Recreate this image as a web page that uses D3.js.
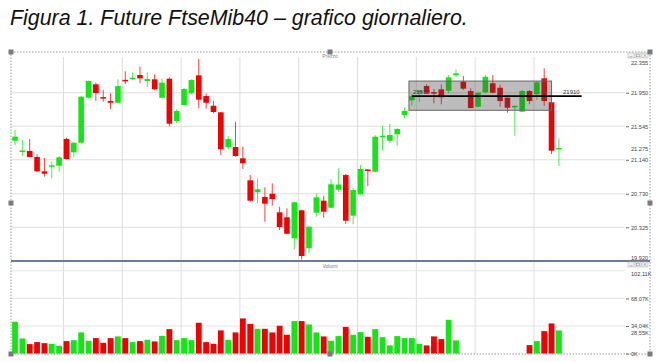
<!DOCTYPE html>
<meta charset="utf-8">
<style>
  body { margin: 0; background: #fff; }
  text { font-family: "Liberation Sans", Arial, sans-serif; }
</style>
<body>
<script src="https://cdn.jsdelivr.net/npm/d3@7"></script>
<script>
// daily candles, index 0..74
var opens = [21370,21232,21246,21174,21001,21053,21068,21391,21230,21346,
             21890,22052,21889,21850,21829,22097,22110,22164,22091,22112,
             21890,22119,21608,21802,21943,22160,21910,21793,21713,21291,
             21294,21158,20892,20747,20691,20730,20506,20445,20192,20530,
             20071,20501,20646,20561,20779,20956,20465,20723,21014,20996,
             21409,21370,21448,21681,21858,21953,22031,21949,21991,21974,
             22160,22083,21971,21781,21955,22064,22010,21890,21771,21721,
             21971,21931,22124,21834,21265];
var closes = [21419,21244,21174,21001,20972,21065,21170,21149,21346,21902,
              22091,21946,21876,21829,22031,22085,22122,22124,22116,21991,
              22071,21576,21729,21995,22103,21866,21829,21717,21267,21391,
              21186,21098,20646,20784,20610,20666,20328,20247,20627,19978,
              20332,20687,20513,20844,20841,20404,20775,21029,21002,21419,
              21421,21439,21512,21729,21910,21965,21950,21937,21895,22136,
              22184,21999,21765,21950,22143,21950,21850,21769,21783,21971,
              21850,22076,21850,21250,21275];
var highs = [21500,21379,21391,21206,21162,21117,21186,21407,21358,21910,
             22095,22071,21983,21943,22112,22209,22196,22264,22196,22172,
             22119,22136,21750,22010,22112,22357,21943,21853,21717,21427,
             21600,21298,20956,20916,20808,20856,20573,20554,20634,20537,
             20344,20735,20706,20908,21037,20968,20803,21077,21025,21439,
             21552,21572,21527,21774,21938,21983,22052,21995,22052,22164,
             22233,22152,22003,21962,22164,22164,22047,21922,21802,21983,
             21983,22091,22245,21841,21399];
var lows = [21318,21186,21170,20992,20936,20916,20996,21146,21170,21337,
            21882,21853,21841,21753,21822,22055,22103,22064,22023,21983,
            21882,21544,21581,21793,21934,21762,21757,21701,21198,21267,
            21177,21029,20634,20614,20392,20585,20292,20240,20059,19936,
            20011,20453,20441,20554,20754,20364,20361,20715,20823,20989,
            21250,21339,21310,21641,21796,21841,21934,21822,21810,21943,
            22136,21983,21762,21774,21943,21943,21781,21709,21431,21717,
            21810,21862,21793,21210,21065];
// volumes in thousands (missing days = null)
var volumes = [39.2,18.7,11.7,14.2,12.9,12.1,9.6,15.4,16.6,26.1,
               15.8,19.1,13.3,19.1,21.2,19.1,14.2,15.4,17.0,15.0,
               21.9,30.2,16.6,19.1,16.6,38.0,14.2,12.1,28.6,17.0,
               26.1,43.4,36.7,30.6,30.6,26.1,34.3,23.2,40.1,40.1,
               36.0,26.1,21.2,15.8,21.6,33.0,23.2,26.5,20.7,30.2,
               20.3,10.1,21.6,19.1,19.1,12.1,10.1,21.2,17.9,41.7,
               16.3,null,null,null,null,null,null,null,null,null,
               10.5,15.4,27.7,37.2,28.55];

var priceTicks = [22355, 21950, 21545, 21275, 21140, 20730, 20325, 19920];
var priceGrid = [21950, 21545, 21140, 20730, 20325];
var lastPrice = 21275;
var volTicks = [102.11, 68.07, 34.04, 28.55, 0];
var volGrid = [102.11, 68.07, 34.04];
var lastVol = 28.55;

// annotation drawn on the chart: range box and level
var boxIdx = [53.6, 73.0], boxPrice = [22091, 21738];
var levelIdx = [54.0, 77.1], level = 21910;

var title = "Figura 1. Future FtseMib40 \u2013 grafico giornaliero.";

var width = 661, height = 362;
var it = d3.formatLocale({decimal: ",", thousands: ".", grouping: [3], currency: ["", "\u20ac"]});
var fmtPrice = it.format(",.0f");
var fmtVol = function(d) { return d === 0 ? "0K" : it.format(".2f")(d) + "K"; };

var x = d3.scaleLinear().domain([0, 74]).range([15, 558.9]);
var y = d3.scaleLinear().domain([19920, 22355]).range([260.8, 59.2]);
var yv = d3.scaleLinear().domain([0, 68.07]).range([353.6, 298.4]);

var green = "#14e614", red = "#f20000";

var svg = d3.select("body").append("svg")
  .attr("width", width).attr("height", height);

svg.append("text")
  .attr("x", 10).attr("y", 25)
  .attr("font-size", 21.4).attr("font-style", "italic")
  .attr("fill", "#111")
  .text(title);

// grids
var vgrid = d3.range(6.6, 75, 8);
svg.append("g").selectAll("line").data(vgrid).enter().append("line")
  .attr("x1", d => x(d)).attr("x2", d => x(d))
  .attr("y1", 57).attr("y2", 354)
  .attr("stroke", "#dedede");

svg.append("g").selectAll("line").data(priceGrid).enter().append("line")
  .attr("x1", 11).attr("x2", 625)
  .attr("y1", d => y(d)).attr("y2", d => y(d))
  .attr("stroke", "#dedede");

svg.append("g").selectAll("line").data(volGrid).enter().append("line")
  .attr("x1", 11).attr("x2", 625)
  .attr("y1", d => yv(d)).attr("y2", d => yv(d))
  .attr("stroke", "#e4e4e4");

// candles
var candles = opens.map((o, i) => ({i: i, o: o, c: closes[i], h: highs[i], l: lows[i], v: volumes[i]}));
var col = d => d.c >= d.o ? green : red;

var cg = svg.append("g");
cg.selectAll("line").data(candles).enter().append("line")
  .attr("x1", d => x(d.i)).attr("x2", d => x(d.i))
  .attr("y1", d => y(d.h)).attr("y2", d => y(d.l))
  .attr("stroke", col).attr("stroke-opacity", 0.75);

cg.selectAll("rect").data(candles).enter().append("rect")
  .attr("x", d => x(d.i) - 2.8)
  .attr("width", 5.6)
  .attr("y", d => Math.min(y(d.o), y(d.c)) - (Math.abs(y(d.o) - y(d.c)) < 1.5 ? 0.7 : 0))
  .attr("height", d => Math.max(1.5, Math.abs(y(d.o) - y(d.c))))
  .attr("fill", col);

// volume bars
svg.append("g").selectAll("rect").data(candles.filter(d => d.v != null)).enter().append("rect")
  .attr("x", d => x(d.i) - 2.9)
  .attr("width", 5.8)
  .attr("y", d => yv(d.v))
  .attr("height", d => yv(0) - yv(d.v))
  .attr("fill", col);

// range box and level line
svg.append("rect")
  .attr("x", x(boxIdx[0])).attr("width", x(boxIdx[1]) - x(boxIdx[0]))
  .attr("y", y(boxPrice[0])).attr("height", y(boxPrice[1]) - y(boxPrice[0]))
  .attr("fill", "rgba(70,70,70,0.36)")
  .attr("stroke", "#666");

svg.append("line")
  .attr("x1", x(levelIdx[0])).attr("x2", x(levelIdx[1]))
  .attr("y1", y(level)).attr("y2", y(level))
  .attr("stroke", "#000").attr("stroke-width", 1.8);

svg.append("g").selectAll("text").data([levelIdx[0], levelIdx[1]]).enter().append("text")
  .attr("x", (d, k) => k ? x(d) - 2 : x(d) + 1)
  .attr("y", y(level) - 2.5)
  .attr("text-anchor", (d, k) => k ? "end" : "start")
  .attr("font-size", 6).attr("fill", "#333")
  .text(it.format("d")(level));

// pane separator
svg.append("line")
  .attr("x1", 11).attr("x2", 650).attr("y1", 261).attr("y2", 261)
  .attr("stroke", "#6b7a99").attr("stroke-width", 2);

// axes
function styleAxis(g, ends, shift, lastV) {
  g.select(".domain").remove();
  g.attr("font-size", 5.6).attr("font-family", "'Liberation Sans', Arial, sans-serif");
  g.selectAll(".tick line").attr("stroke", "#666");
  g.selectAll(".tick text").attr("fill", "#444");
  g.selectAll(".tick").filter(d => ends.indexOf(d) >= 0 || d === lastV).select("line").remove();
  g.selectAll(".tick").filter(d => ends.indexOf(d) >= 0).select("text")
    .attr("dy", (d, k) => (0.32 * 5.6 + shift[ends.indexOf(d)]) + "px");
}

var pa = svg.append("g").attr("transform", "translate(626,0)")
  .call(d3.axisRight(y).tickValues(priceTicks).tickSize(3).tickPadding(2).tickFormat(fmtPrice));
styleAxis(pa, [22355, 19920], [3.4, -3.4], lastPrice);

var va = svg.append("g").attr("transform", "translate(626,0)")
  .call(d3.axisRight(yv).tickValues(volTicks).tickSize(3).tickPadding(2).tickFormat(fmtVol));
styleAxis(va, [102.11], [2.6], lastVol);
va.selectAll(".tick").filter(d => d === lastVol).select("text").attr("dy", "3.6px");

// pane titles
svg.append("text").attr("x", 330).attr("y", 57.5).attr("text-anchor", "middle")
  .attr("font-size", 5).attr("fill", "#888").text("Prezzo");
svg.append("text").attr("x", 330).attr("y", 267.5).attr("text-anchor", "middle")
  .attr("font-size", 5).attr("fill", "#777").text("Volumi");

// window buttons
[53, 262].forEach(function(top) {
  var b = svg.append("g").attr("transform", "translate(628," + top + ")");
  [0, 7, 14].forEach(function(dx, k) {
    b.append("rect").attr("x", dx).attr("y", 0).attr("width", 6).attr("height", 5)
      .attr("fill", "#f3f3f3").attr("stroke", "#b5b5b5").attr("stroke-width", 0.6);
    if (k === 0) b.append("line").attr("x1", dx + 1.5).attr("x2", dx + 4.5).attr("y1", 3.8).attr("y2", 3.8).attr("stroke", "#888").attr("stroke-width", 0.6);
    if (k === 1) b.append("rect").attr("x", dx + 1.5).attr("y", 1.2).attr("width", 3).attr("height", 2.6).attr("fill", "none").attr("stroke", "#888").attr("stroke-width", 0.5);
    if (k === 2) b.append("path").attr("d", "M" + (dx + 1.6) + ",1.2L" + (dx + 4.4) + ",3.8M" + (dx + 4.4) + ",1.2L" + (dx + 1.6) + ",3.8").attr("stroke", "#888").attr("stroke-width", 0.6);
  });
});

// dotted frame with handles
svg.append("rect")
  .attr("x", 11).attr("y", 52).attr("width", 639).attr("height", 302)
  .attr("fill", "none").attr("stroke", "#999").attr("stroke-dasharray", "1.5,1.5");

var handles = [[11, 52], [330, 52], [650, 52], [11, 203], [650, 203], [11, 354], [330, 354], [650, 354]];
svg.append("g").selectAll("rect").data(handles).enter().append("rect")
  .attr("x", d => d[0] - 2.5).attr("y", d => d[1] - 2.5)
  .attr("width", 5).attr("height", 5).attr("fill", "#7a7a7a");
</script>
</body>
</html>
